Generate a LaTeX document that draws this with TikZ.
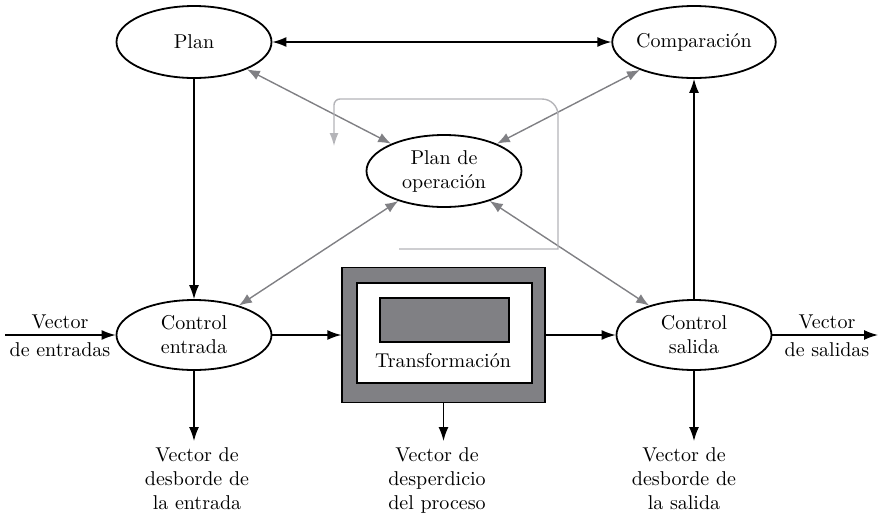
\documentclass[tikz,border=0pt]{standalone}
\usepackage{amsmath}
\usepackage{tikz}
\usetikzlibrary{arrows, arrows.meta, shapes.geometric}
\definecolor{tono}{RGB}{128,128,132}
\definecolor{tenue}{RGB}{180,180,184}
\tikzset{stage/.style = {shape = ellipse, draw, line width = 0.9pt, minimum width = 77.5pt, minimum height = 36pt, inner sep = 0pt, align = center}}
\tikzset{flow/.style = {line width = 0.7pt, -{Latex[length=7pt, width=5pt]}}}
\tikzset{link/.style = {line width = 0.7pt, tono, {Latex[length=6.5pt, width=5pt]}-{Latex[length=6.5pt, width=5pt]}}}
\tikzset{label/.style = {align = center, inner sep = 3pt}}

\begin{document}
\begin{tikzpicture}[x = 0.5pt, y = -0.5pt]
				\useasboundingbox (0, 0) rectangle (878, 520);

				% las cinco etapas
				\node[stage] (plan) at (194, 42) {Plan};
				\node[stage] (comp) at (694, 42) {Comparación};
				\node[stage] (oper) at (444, 171) {Plan de\\operación};
				\node[stage, minimum height = 35pt] (cent) at (194, 335) {Control\\entrada};
				\node[stage, minimum height = 35pt] (csal) at (694, 335) {Control\\salida};

				% bloque de transformacion
				\node[draw, fill = tono, line width = 0.7pt, minimum width = 101.5pt, minimum height = 67.5pt] (trans) at (443.5, 335) {};
				\node[draw, fill = white, line width = 0.7pt, minimum width = 87.5pt, minimum height = 50pt] (inner) at (444.5, 333) {};
				\node[draw, fill = tono, line width = 0.7pt, minimum width = 64.5pt, minimum height = 22pt] (core) at (444.5, 320) {};
				\node (tlabel) at (443, 361) {Transformación};

				% vectores de entrada y salida
				\coordinate (in) at (5, 335);
				\coordinate (out) at (878, 335);
				\node[label] (vin) at (60, 336) {Vector\\[2pt]de entradas};
				\node[label] (vout) at (827, 336) {Vector\\[2pt]de salidas};

				\node[label, anchor = north] (dent) at (197, 441) {Vector de\\desborde de\\la entrada};
				\node[label, anchor = north] (dproc) at (437, 441) {Vector de\\desperdicio\\del proceso};
				\node[label, anchor = north] (dsal) at (684, 441) {Vector de\\desborde de\\la salida};

				\draw[flow] (in) -- (cent);
				\draw[flow] (cent) -- (trans);
				\draw[flow] (trans) -- (csal);
				\draw[flow] (csal) -- (out);
				\draw[flow] (plan) -- (cent);
				\draw[flow] (csal) -- (comp);
				\draw[flow, {Latex[length=7pt, width=5pt]}-{Latex[length=7pt, width=5pt]}] (plan) -- (comp);

				\draw[flow] (cent.south) -- (cent.south |- dent.north);
				\draw[flow] (trans.south) -- (trans.south |- dproc.north);
				\draw[flow] (csal.south) -- (csal.south |- dsal.north);

				% enlaces con el plan de operacion
				\draw[link] (plan) -- (oper);
				\draw[link] (comp) -- (oper);
				\draw[link] (cent) -- (oper);
				\draw[link] (csal) -- (oper);

				% lazo de realimentacion
				\coordinate (loopa) at (399, 249);
				\coordinate (loopb) at (558, 249);
				\coordinate (loopc) at (558, 99);
				\coordinate (loopd) at (334, 99);
				\coordinate (loope) at (334, 146);
				\draw[tenue, line width = 0.7pt, -{Latex[length=6.5pt, width=4.5pt]}] (loopa) -- (loopb) [rounded corners = 8pt] -- (loopc) [rounded corners = 3pt] -- (loopd) [sharp corners] -- (loope);
			\end{tikzpicture}
\end{document}
